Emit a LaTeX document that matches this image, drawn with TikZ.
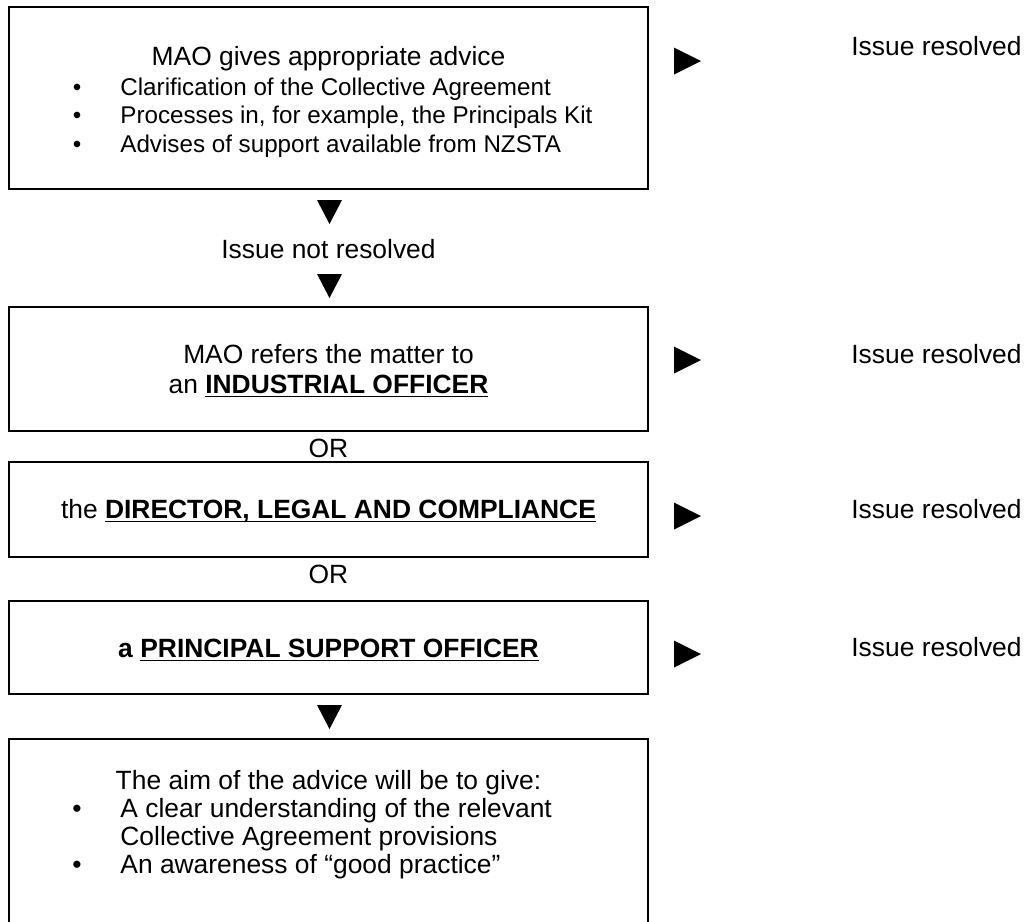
\documentclass[tikz,border=0pt]{standalone}
\usepackage{fontspec}
\setmainfont{Liberation Sans}
\usetikzlibrary{positioning}

\newlength\ulwd
\newcommand{\ulbold}[1]{\settowidth{\ulwd}{\bfseries #1}{\bfseries #1}\hspace{-\ulwd}\rule[-2.2pt]{\ulwd}{0.9pt}}

\begin{document}
\begin{tikzpicture}[x=0.5pt, y=-0.5pt,
  txt/.style={inner sep=0pt, font=\fontsize{13.2}{14.5}\selectfont},
  small/.style={inner sep=0pt, font=\fontsize{12.1}{13.3}\selectfont},
  boxline/.style={line width=1pt},
  tri/.style={fill=black}]

\useasboundingbox (0,0) rectangle (1024,922);

\def\cx{328.5}  % middle of the boxes

% the boxes
\draw[boxline] (9,7)   rectangle (648,189);
\draw[boxline] (9,307) rectangle (648,431);
\draw[boxline] (9,462) rectangle (648,557);
\draw[boxline] (9,601) rectangle (648,694);
\draw[boxline] (9,922) -- (9,739) -- (648,739) -- (648,922);

% first box
\node[txt, anchor=base] (adv) at (\cx,65) {MAO gives appropriate advice};
\node[small, anchor=base] (b1) at (77,95)  {•};
\node[small, anchor=base west] (l1) at (120,95)  {Clarification of the Collective Agreement};
\node[small, anchor=base] (b2) at (77,123) {•};
\node[small, anchor=base west] (l2) at (120,123) {Processes in, for example, the Principals Kit};
\node[small, anchor=base] (b3) at (77,152) {•};
\node[small, anchor=base west] (l3) at (120,152) {Advises of support available from NZSTA};

% down arrows
\fill[tri] (317,200) -- (342,200) -- (329.5,224) -- cycle;
\node[txt, anchor=base] (notres) at (\cx,258) {Issue not resolved};
\fill[tri] (317,274) -- (342,274) -- (329.5,298) -- cycle;

% industrial officer
\node[txt, anchor=base] (ref) at (\cx,363) {MAO refers the matter to};
\node[txt, anchor=base] (io) at (\cx,393) {an \ulbold{INDUSTRIAL OFFICER}};
\node[txt, anchor=base] (or1) at (\cx,457) {OR};

% director
\node[txt, anchor=base] (dir) at (\cx,518) {the \ulbold{DIRECTOR, LEGAL AND COMPLIANCE}};
\node[txt, anchor=base] (or2) at (\cx,583) {OR};

% principal support officer
\node[txt, anchor=base] (pso) at (\cx,657) {\textbf{a} \ulbold{PRINCIPAL SUPPORT OFFICER}};
\fill[tri] (317,705) -- (342,705) -- (329.5,729) -- cycle;

% last box
\node[txt, anchor=base] (aim) at (\cx,789) {The aim of the advice will be to give:};
\node[txt, anchor=base] (b4) at (77,817) {•};
\node[txt, anchor=base west] (l4) at (120,817) {A clear understanding of the relevant};
\node[txt, anchor=base west] (l5) at (120,845) {Collective Agreement provisions};
\node[txt, anchor=base] (b5) at (77,873) {•};
\node[txt, anchor=base west] (l6) at (120,873) {An awareness of “good practice”};

% right arrows and outcomes
\foreach \y/\b/\n in {61/55/r1, 360/363/r2, 516/518/r3, 654/656/r4} {
  \fill[tri] (674,\y-13.5) -- (674,\y+13.5) -- (701,\y) -- cycle;
  \node[txt, anchor=base west] (\n) at (851,\b) {Issue resolved};
}

\end{tikzpicture}
\end{document}
